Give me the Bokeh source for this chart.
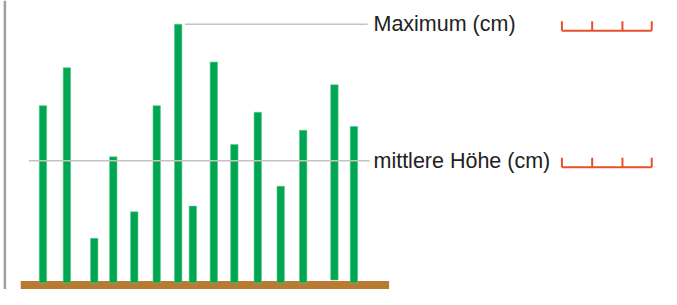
from bokeh.plotting import figure
from bokeh.models import Range1d
from bokeh.core.properties import value
from bokeh.embed import file_html
from bokeh.resources import INLINE

# plant positions along the bed and their heights (drawing units)
positions = [43.5, 68, 96, 115.5, 137, 160, 182, 197, 218.5, 239.5, 263.5, 287, 310, 342, 362]
heights = [187, 227, 47, 133, 75, 187, 273, 81, 233, 146, 180, 102, 161, 209, 165]
bases = [0, 0, 0, 0, 0, 0, 0, 0, 0, 0, 0, 0, 0, 3, 0]

max_height = 273
mean_height = 129
labels = ["Maximum (cm)", "mittlere Höhe (cm)"]
label_values = [max_height, mean_height]

bed_start, bed_end = 20.7, 398

p = figure(width=661, height=289, output_backend="svg", toolbar_location=None,
           x_range=Range1d(0, 677), y_range=Range1d(-7, 298),
           min_border=0, outline_line_color=None)
p.axis.visible = False
p.grid.visible = False
p.background_fill_color = "white"

# left frame line
p.segment(x0=[4.5], y0=[-7], x1=[4.5], y1=[298], line_color="#9e9ea6", line_width=2.5)

# ground
p.quad(left=[bed_start], right=[bed_end], bottom=[-7], top=[2],
       fill_color="#b97a31", line_color=None)

# plants
p.vbar(x=positions, bottom=bases, top=heights, width=7.6,
       fill_color="#00a651", line_color="#5cc98a", line_width=0.6)

# reference lines
p.segment(x0=[189], y0=[max_height], x1=[376], y1=[max_height],
          line_color="#c3c3c3", line_width=1.5)
p.segment(x0=[29], y0=[mean_height], x1=[378], y1=[mean_height],
          line_color="#c3c3c3", line_width=1.5)

# labels
p.text(x=[382] * len(labels), y=label_values, text=labels,
       text_font=value("Liberation Sans"), text_font_size="21.5px",
       text_color="#222222", text_baseline="middle", text_align="left")

# small rulers next to labels
ruler_color = "#e8502c"
tick_x = [575, 606, 637, 667]
for lv in label_values:
    base = lv - 7
    p.segment(x0=[tick_x[0]], y0=[base], x1=[tick_x[-1]], y1=[base],
              line_color=ruler_color, line_width=2)
    p.segment(x0=tick_x, y0=[base] * 4, x1=tick_x, y1=[base + 10] * 4,
              line_color=ruler_color, line_width=2)

open("out.html", "w").write(file_html(p, INLINE))
